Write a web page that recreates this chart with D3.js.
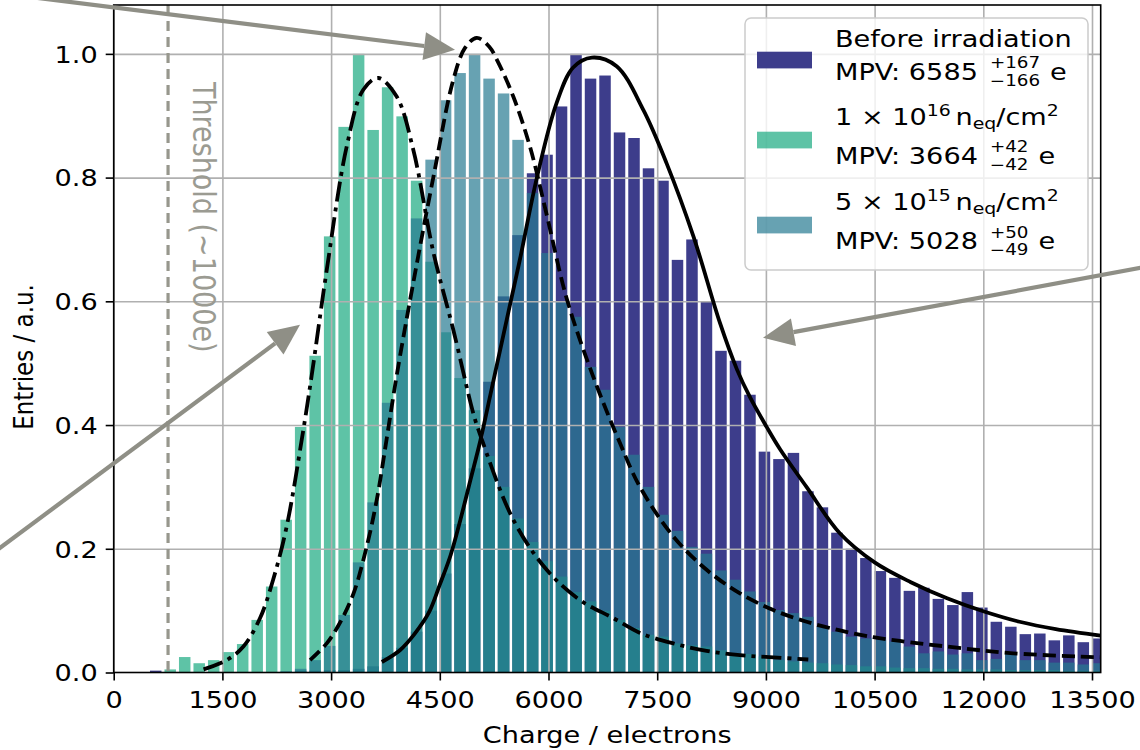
<!DOCTYPE html>
<html>
<head>
<meta charset="utf-8">
<script src="https://cdn.jsdelivr.net/npm/d3@7"></script>
<style>
  body { margin: 0; background: #fff; }
  text { font-family: "DejaVu Sans", sans-serif; }
</style>
</head>
<body>
<script>
'use strict';

(function() {

  // bin centres in electrons, every bin is 200 e wide
  var binWidth = 200;
  var binCenters = [580, 780, 980, 1180, 1380, 1580, 1780, 1980, 2180, 2380,
    2580, 2780, 2980, 3180, 3380, 3580, 3780, 3980, 4180, 4380,
    4580, 4780, 4980, 5180, 5380, 5580, 5780, 5980, 6180, 6380,
    6580, 6780, 6980, 7180, 7380, 7580, 7780, 7980, 8180, 8380,
    8580, 8780, 8980, 9180, 9380, 9580, 9780, 9980, 10180, 10380,
    10580, 10780, 10980, 11180, 11380, 11580, 11780, 11980, 12180, 12380,
    12580, 12780, 12980, 13180, 13380, 13580];

  // normalised entries per bin
  var before = [0.003, 0, 0, 0, 0, 0, 0, 0, 0, 0,
    0.003, 0.003, 0.004, 0.004, 0.006, 0.010, 0.025, 0.040, 0.066, 0.100,
    0.160, 0.240, 0.330, 0.470, 0.608, 0.707, 0.807, 0.837, 0.915, 1.000,
    0.960, 0.965, 0.873, 0.864, 0.815, 0.795, 0.667, 0.700, 0.600, 0.520,
    0.504, 0.449, 0.357, 0.345, 0.355, 0.293, 0.267, 0.226, 0.200, 0.185,
    0.164, 0.153, 0.132, 0.137, 0.119, 0.109, 0.130, 0.105, 0.082, 0.074,
    0.062, 0.063, 0.052, 0.060, 0.049, 0.055];

  var irr1e16 = [0, 0.005, 0.025, 0.015, 0.020, 0.033, 0.046, 0.085, 0.139, 0.247,
    0.397, 0.512, 0.705, 0.882, 1.000, 0.877, 0.946, 0.899, 0.795, 0.664,
    0.550, 0.476, 0.424, 0.350, 0.300, 0.249, 0.211, 0.180, 0.155, 0.130,
    0.115, 0.100, 0.085, 0.072, 0.061, 0.058, 0.047, 0.044, 0.042, 0.036,
    0.031, 0.030, 0.026, 0.020, 0.018, 0.016, 0.015, 0.013, 0.012, 0.010,
    0.010, 0.008, 0.007, 0.007, 0.006, 0.006, 0.005, 0.005, 0.005, 0.004,
    0.004, 0.004, 0.004, 0.003, 0.003, 0.003];

  var irr5e15 = [0, 0, 0, 0, 0, 0, 0, 0, 0, 0.002,
    0.006, 0.020, 0.043, 0.093, 0.178, 0.275, 0.436, 0.586, 0.734, 0.829,
    0.925, 0.969, 1.000, 0.960, 0.936, 0.861, 0.775, 0.678, 0.600, 0.575,
    0.494, 0.457, 0.397, 0.352, 0.300, 0.255, 0.229, 0.203, 0.192, 0.165,
    0.150, 0.131, 0.114, 0.101, 0.096, 0.090, 0.074, 0.066, 0.058, 0.055,
    0.053, 0.050, 0.042, 0.031, 0.034, 0.029, 0.031, 0.020, 0.022, 0.031,
    0.020, 0.020, 0.016, 0.016, 0.013, 0.015];

  // fitted curves, [charge, entries]
  var fitBefore = [[3700, 0.017], [3950, 0.036], [4150, 0.062], [4350, 0.097], [4500, 0.142],
    [4650, 0.190], [4780, 0.245], [4920, 0.310], [5060, 0.375], [5200, 0.450],
    [5330, 0.520], [5470, 0.595], [5610, 0.670], [5840, 0.800], [6110, 0.920],
    [6340, 0.978], [6600, 0.994], [6940, 0.980], [7310, 0.909], [7630, 0.823],
    [8000, 0.705], [8366, 0.565], [8600, 0.490], [8780, 0.445], [9010, 0.397],
    [9200, 0.360], [9560, 0.300], [10020, 0.225], [10500, 0.178],
    [11000, 0.146], [11500, 0.120], [12000, 0.099], [12500, 0.082], [13000, 0.070],
    [13620, 0.0595]];

  var fit5e15 = [[2710, 0.020], [2940, 0.047], [3120, 0.080], [3310, 0.128], [3490, 0.203],
    [3630, 0.279], [3770, 0.380], [3905, 0.480], [4134, 0.630], [4410, 0.800],
    [4686, 0.958], [4850, 1.010], [5010, 1.026], [5180, 1.012], [5290, 0.990],
    [5514, 0.931], [5744, 0.850], [5975, 0.740], [6250, 0.605], [6618, 0.478],
    [6986, 0.371], [7262, 0.300], [7722, 0.220], [8182, 0.166], [8642, 0.128],
    [9102, 0.101], [9562, 0.082], [10022, 0.068], [10482, 0.057], [10850, 0.051],
    [11494, 0.042], [12413, 0.031], [13620, 0.0246]];

  var fit1e16 = [[1240, 0.005], [1560, 0.020], [1790, 0.042], [2020, 0.088], [2200, 0.150],
    [2387, 0.236], [2600, 0.380], [2732, 0.480], [2939, 0.650], [3215, 0.850],
    [3444, 0.942], [3650, 0.961], [3905, 0.931], [4134, 0.845], [4410, 0.680],
    [4686, 0.554], [4962, 0.419], [5055, 0.385], [5514, 0.247], [5975, 0.166],
    [6435, 0.117], [6894, 0.088], [7262, 0.064], [7722, 0.047], [8182, 0.035],
    [8642, 0.028], [9102, 0.0245], [9585, 0.021]];

  var xTicks = [0, 1500, 3000, 4500, 6000, 7500, 9000, 10500, 12000, 13500];
  var yTicks = [0, 0.2, 0.4, 0.6, 0.8, 1.0];

  var threshold = 750;

  // annotation arrows: tip and tail in data units (tails run off the axes)
  var arrowTips = [[4710, 1.0065], [2571, 0.562], [8960, 0.541]];
  var arrowTails = [[-1845, 1.102], [-1845, 0.1774], [14438, 0.660]];

  var mpvValues = ["6585", "3664", "5028"];
  var mpvUp = ["+167", "+42", "+50"];
  var mpvDown = ["\u2212166", "\u221242", "\u221249"];
  var fluence = [null, ["1", "16"], ["5", "15"]];

  var width = 1140, height = 750;
  var SX = 1.18; // text in the reference is a little wider than tall

  var svg = d3.select("body").append("svg")
      .attr("width", width)
      .attr("height", height);

  var x = d3.scaleLinear().domain([0, 13620]).range([113.7, 1100.7]);
  var y = d3.scaleLinear().domain([0, 1.079]).range([672.5, 5]);
  var left = x.range()[0], right = x.range()[1];
  var bottom = y.range()[0], top = y.range()[1];

  svg.append("defs").append("clipPath").attr("id", "plotArea")
    .append("rect")
      .attr("x", left).attr("y", top)
      .attr("width", right - left).attr("height", bottom - top);

  var plot = svg.append("g").attr("clip-path", "url(#plotArea)");

  // histograms, drawn in legend order
  var series = [
    { vals: before, fill: "#3d3d8b", op: 1 },
    { vals: irr1e16, fill: "#1aaa80", op: 0.7 },
    { vals: irr5e15, fill: "#267a92", op: 0.7 }
  ];

  series.forEach(function(s) {
    var bins = binCenters.map(function(c, i) { return { c: c, v: s.vals[i] }; })
        .filter(function(d) { return d.v > 0; });
    plot.append("g").selectAll("rect")
        .data(bins)
        .enter()
        .append("rect")
          .attr("x", function(d) { return x(d.c - binWidth / 2) + 1.5; })
          .attr("y", function(d) { return y(d.v); })
          .attr("width", function(d) { return x(d.c + binWidth / 2) - x(d.c - binWidth / 2) - 3; })
          .attr("height", function(d) { return y(0) - y(d.v); })
          .attr("fill", s.fill)
          .attr("fill-opacity", s.op);
  });

  // grid sits on top of the bars
  plot.append("g")
      .attr("transform", "translate(0," + bottom + ")")
      .call(d3.axisBottom(x).tickValues(xTicks).tickSize(-(bottom - top)).tickFormat(""))
      .call(function(g) { g.select(".domain").remove(); })
      .selectAll("line").attr("stroke", "#b0b0b0").attr("stroke-width", 1.6);

  plot.append("g")
      .attr("transform", "translate(" + left + ",0)")
      .call(d3.axisLeft(y).tickValues(yTicks).tickSize(-(right - left)).tickFormat(""))
      .call(function(g) { g.select(".domain").remove(); })
      .selectAll("line").attr("stroke", "#b0b0b0").attr("stroke-width", 1.6);

  // threshold marker
  plot.append("line")
      .attr("x1", x(threshold)).attr("x2", x(threshold))
      .attr("y1", top).attr("y2", bottom)
      .attr("stroke", "#97978d")
      .attr("stroke-width", 3.2)
      .attr("stroke-dasharray", "10,6");

  svg.append("text")
      .attr("transform", "translate(193,82) scale(" + SX + ",1) rotate(90)")
      .attr("font-size", 27)
      .attr("fill", "#9b9b92")
      .text("Threshold (~1000e)");

  // fits
  var line = d3.line()
      .x(function(d) { return x(d[0]); })
      .y(function(d) { return y(d[1]); })
      .curve(d3.curveCatmullRom.alpha(0.5));

  plot.append("path").datum(fitBefore)
      .attr("d", line).attr("fill", "none")
      .attr("stroke", "#000").attr("stroke-width", 3.8);

  plot.append("path").datum(fit5e15)
      .attr("d", line).attr("fill", "none")
      .attr("stroke", "#000").attr("stroke-width", 3.8)
      .attr("stroke-dasharray", "13,6");

  plot.append("path").datum(fit1e16)
      .attr("d", line).attr("fill", "none")
      .attr("stroke", "#000").attr("stroke-width", 3.8)
      .attr("stroke-dasharray", "20,6,4,6");

  // axes
  var xAxis = svg.append("g")
      .attr("transform", "translate(0," + bottom + ")")
      .call(d3.axisBottom(x).tickValues(xTicks).tickSize(8).tickFormat(d3.format("d")));
  xAxis.select(".domain").remove();
  xAxis.selectAll("line").attr("stroke", "#000").attr("stroke-width", 1.6);
  xAxis.selectAll("text")
      .attr("y", 36).attr("dy", null)
      .attr("transform", "scale(" + SX + ",1)")
      .attr("font-size", 23).attr("fill", "#000")
      .attr("font-family", "DejaVu Sans");

  var yAxis = svg.append("g")
      .attr("transform", "translate(" + left + ",0)")
      .call(d3.axisLeft(y).tickValues(yTicks).tickSize(8).tickFormat(d3.format(".1f")));
  yAxis.select(".domain").remove();
  yAxis.selectAll("line").attr("stroke", "#000").attr("stroke-width", 1.6);
  yAxis.selectAll("text")
      .attr("x", -16 / SX).attr("y", 8.4).attr("dy", null)
      .attr("transform", "scale(" + SX + ",1)")
      .attr("font-size", 23).attr("fill", "#000")
      .attr("font-family", "DejaVu Sans");

  svg.append("rect")
      .attr("x", left).attr("y", top)
      .attr("width", right - left).attr("height", bottom - top)
      .attr("fill", "none").attr("stroke", "#000").attr("stroke-width", 1.6);

  svg.append("text")
      .attr("transform", "translate(" + ((left + right) / 2) + ",742.5) scale(" + SX + ",1)")
      .attr("text-anchor", "middle")
      .attr("font-size", 23)
      .text("Charge / electrons");

  svg.append("text")
      .attr("transform", "translate(33,357) scale(" + SX + ",1) rotate(-90)")
      .attr("text-anchor", "middle")
      .attr("font-size", 23)
      .text("Entries / a.u.");

  // arrows
  var arrowCol = "#8f8f86";
  arrowTips.forEach(function(tip, i) {
    var tx = x(tip[0]), ty = y(tip[1]);
    var sx = x(arrowTails[i][0]), sy = y(arrowTails[i][1]);
    var len = Math.hypot(tx - sx, ty - sy);
    var ux = (tx - sx) / len, uy = (ty - sy) / len;
    var headL = 31, headW = 14;
    var bx = tx - ux * headL, by = ty - uy * headL;
    svg.append("line")
        .attr("x1", sx).attr("y1", sy).attr("x2", bx).attr("y2", by)
        .attr("stroke", arrowCol).attr("stroke-width", 4.2);
    svg.append("path")
        .attr("d", "M" + tx + "," + ty +
             "L" + (bx - uy * headW) + "," + (by + ux * headW) +
             "L" + (bx + uy * headW) + "," + (by - ux * headW) + "Z")
        .attr("fill", arrowCol);
  });

  // legend
  var legend = svg.append("g");
  legend.append("rect")
      .attr("x", 745).attr("y", 18)
      .attr("width", 343).attr("height", 252)
      .attr("rx", 6)
      .attr("fill", "#fff").attr("fill-opacity", 0.8)
      .attr("stroke", "#cccccc").attr("stroke-width", 1.5);

  var patchY = [60, 140, 225];
  var line1Y = [46.7, 125, 210];
  var line2Y = [80, 164, 249.3];
  var textX = 835;

  series.forEach(function(s, i) {
    legend.append("rect")
        .attr("x", 757).attr("y", patchY[i] - 8.3)
        .attr("width", 55).attr("height", 16.7)
        .attr("fill", s.fill).attr("fill-opacity", s.op);

    var t1 = legend.append("text")
        .attr("transform", "translate(" + textX + "," + line1Y[i] + ") scale(" + SX + ",1)")
        .attr("font-size", 23);
    if (fluence[i] === null) {
      t1.text("Before irradiation");
    } else {
      t1.append("tspan").text(fluence[i][0] + " \u00d7 10");
      t1.append("tspan").attr("font-size", 16).attr("dy", -9).text(fluence[i][1]);
      t1.append("tspan").attr("dy", 9).attr("dx", 4).text("n");
      t1.append("tspan").attr("font-size", 16).attr("dy", 4).text("eq");
      t1.append("tspan").attr("dy", -4).text("/cm");
      t1.append("tspan").attr("font-size", 16).attr("dy", -9).text("2");
    }

    var t2 = legend.append("text")
        .attr("transform", "translate(" + textX + "," + line2Y[i] + ") scale(" + SX + ",1)")
        .attr("font-size", 23)
        .text("MPV: " + mpvValues[i]);
    var w = t2.node().getComputedTextLength() * SX;
    var sx0 = textX + w + 12;
    var up = legend.append("text")
        .attr("transform", "translate(" + sx0 + "," + (line2Y[i] - 11.7) + ") scale(" + SX + ",1)")
        .attr("font-size", 15.5)
        .text(mpvUp[i]);
    var dn = legend.append("text")
        .attr("transform", "translate(" + sx0 + "," + (line2Y[i] + 6) + ") scale(" + SX + ",1)")
        .attr("font-size", 15.5)
        .text(mpvDown[i]);
    var ws = Math.max(up.node().getComputedTextLength(), dn.node().getComputedTextLength()) * SX;
    legend.append("text")
        .attr("transform", "translate(" + (sx0 + ws + 10) + "," + line2Y[i] + ") scale(" + SX + ",1)")
        .attr("font-size", 23)
        .text("e");
  });

})();
</script>
</body>
</html>
